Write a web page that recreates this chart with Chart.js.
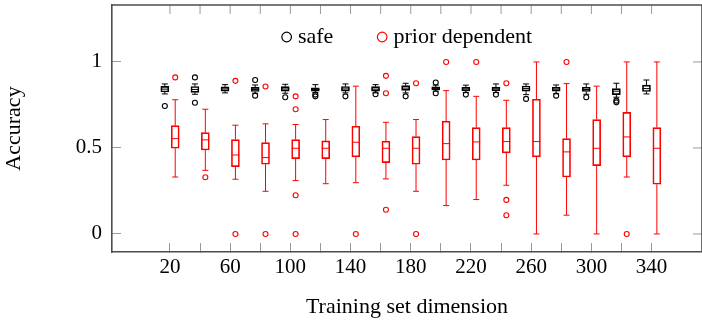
<!DOCTYPE html>
<html>
<head>
<meta charset="utf-8">
<script src="https://cdn.jsdelivr.net/npm/chart.js"></script>
<style>
  html, body { margin: 0; padding: 0; background: #fff; }
</style>
</head>
<body>
<canvas id="chart" width="702" height="322"></canvas>
<script>
// training set sizes (one box pair per size)
const sizes = [20, 40, 60, 80, 100, 120, 140, 160, 180, 200, 220, 240, 260, 280, 300, 320, 340];
const xLabeled = [20, 60, 100, 140, 180, 220, 260, 300, 340];
const yTicks = [0, 0.5, 1];

// safe
const safeLow  = [0.814, 0.812, 0.820, 0.818, 0.818, 0.822, 0.820, 0.820, 0.820, 0.830, 0.822, 0.822, 0.810, 0.815, 0.812, 0.795, 0.814];
const safeQ1   = [0.825, 0.823, 0.830, 0.828, 0.830, 0.830, 0.830, 0.830, 0.835, 0.838, 0.832, 0.832, 0.830, 0.830, 0.828, 0.810, 0.828];
const safeMed  = [0.842, 0.840, 0.843, 0.840, 0.843, 0.840, 0.843, 0.842, 0.848, 0.847, 0.843, 0.843, 0.845, 0.842, 0.840, 0.830, 0.845];
const safeQ3   = [0.858, 0.857, 0.855, 0.852, 0.856, 0.850, 0.857, 0.856, 0.862, 0.855, 0.853, 0.853, 0.860, 0.853, 0.853, 0.845, 0.865];
const safeHigh = [0.872, 0.872, 0.868, 0.866, 0.870, 0.868, 0.872, 0.868, 0.876, 0.865, 0.865, 0.872, 0.872, 0.866, 0.872, 0.876, 0.895];
const safeOut  = [[0.744], [0.91, 0.763], [], [0.895, 0.804], [0.795], [0.81, 0.80], [0.80], [0.812], [0.80],
                  [0.88, 0.818], [0.81], [0.81], [0.785], [0.804], [0.795], [0.775, 0.765], []];

// prior dependent
const priorLow  = [0.331, 0.370, 0.318, 0.248, 0.310, 0.292, 0.298, 0.320, 0.248, 0.165, 0.200, 0.283, 0.000, 0.109, 0.000, 0.331, 0.000];
const priorQ1   = [0.498, 0.488, 0.391, 0.405, 0.438, 0.438, 0.448, 0.415, 0.405, 0.430, 0.430, 0.471, 0.448, 0.331, 0.397, 0.448, 0.289];
const priorMed  = [0.554, 0.547, 0.459, 0.444, 0.498, 0.498, 0.533, 0.498, 0.498, 0.525, 0.535, 0.537, 0.537, 0.477, 0.498, 0.564, 0.498];
const priorQ3   = [0.630, 0.589, 0.548, 0.531, 0.548, 0.541, 0.626, 0.539, 0.566, 0.655, 0.618, 0.618, 0.783, 0.554, 0.665, 0.707, 0.618];
const priorHigh = [0.780, 0.725, 0.632, 0.640, 0.636, 0.665, 0.859, 0.649, 0.665, 0.833, 0.800, 0.777, 1.000, 0.874, 0.859, 1.000, 1.000];
const priorOut  = [[0.91], [0.33], [0, 0.89], [0, 0.857], [0.225, 0, 0.80, 0.725], [], [0], [0.141, 0.919, 0.818], [0, 0.876],
                   [1.0], [1.0], [0.198, 0.109, 0.876], [], [1.0], [], [0], []];

const red = '#ff0000';
const black = '#000000';
const axisColor = '#4d4d4d';
const tickColor = '#9a9a9a';
const tickLen = 9;
const safeShift = -3.4;
const priorShift = 3.5;

Chart.defaults.font.family = '"Liberation Serif", "Times New Roman", serif';
Chart.defaults.color = '#000';

function boxData(shift, q1, q3) {
  return sizes.map((s, i) => ({ x: s + shift, y: [q1[i], q3[i]] }));
}
function pointData(shift, vals) {
  return sizes.map((s, i) => ({ x: s + shift, y: vals[i] }));
}
function whiskerData(shift, low, q1, q3, high) {
  const pts = [];
  sizes.forEach((s, i) => {
    const x = s + shift;
    pts.push({ x, y: low[i] }, { x, y: q1[i] }, { x, y: null });
    pts.push({ x, y: q3[i] }, { x, y: high[i] }, { x, y: null });
  });
  return pts;
}
function outlierData(shift, outs) {
  const pts = [];
  sizes.forEach((s, i) => outs[i].forEach(v => pts.push({ x: s + shift, y: v })));
  return pts;
}

function series(color, shift, low, q1, med, q3, high, outs) {
  return [
    { type: 'bar', data: boxData(shift, q1, q3), stack: 'boxes',
      backgroundColor: 'rgba(0,0,0,0)', borderColor: color, borderWidth: 1,
      borderSkipped: false, barThickness: 8 },
    { type: 'scatter', data: whiskerData(shift, low, q1, q3, high), showLine: true,
      borderColor: color, borderWidth: 1, pointRadius: 0 },
    { type: 'scatter', data: pointData(shift, low).concat(pointData(shift, high)),
      pointStyle: 'line', pointRadius: 3, borderColor: color, borderWidth: 1 },
    { type: 'scatter', data: pointData(shift, med),
      pointStyle: 'line', pointRadius: 4, borderColor: color, borderWidth: 1 },
    { type: 'scatter', data: outlierData(shift, outs),
      pointStyle: 'circle', pointRadius: 2.5, borderColor: color,
      backgroundColor: 'rgba(0,0,0,0)', borderWidth: 1.1 }
  ];
}

// legend drawn inside the plot, like the pgfplots one
const insideLegend = {
  id: 'insideLegend',
  afterDraw(chart) {
    const { ctx, chartArea } = chart;
    const entries = [['safe', black], ['prior dependent', red]];
    const r = 4.8, gapText = 6.5, gapItem = 44;
    ctx.save();
    ctx.font = '22px "Liberation Serif"';
    const widths = entries.map(e => 2 * r + gapText + ctx.measureText(e[0]).width);
    const total = widths.reduce((a, b) => a + b, 0) + gapItem * (entries.length - 1);
    let x = (chartArea.left + chartArea.right) / 2 - total / 2;
    const cy = chartArea.top + 32;
    entries.forEach((e, i) => {
      ctx.beginPath();
      ctx.arc(x + r, cy, r, 0, Math.PI * 2);
      ctx.strokeStyle = e[1];
      ctx.lineWidth = 1.2;
      ctx.stroke();
      ctx.fillStyle = '#000';
      ctx.textBaseline = 'alphabetic';
      ctx.fillText(e[0], x + 2 * r + gapText, cy + 5.8);
      x += widths[i] + gapItem;
    });
    ctx.restore();
  }
};

// ticks on top and right sides, plus the top frame line
const mirrorTicks = {
  id: 'mirrorTicks',
  afterDraw(chart) {
    const { ctx, chartArea: a, scales: { x, y } } = chart;
    ctx.save();
    ctx.strokeStyle = tickColor;
    ctx.lineWidth = 1;
    ctx.beginPath();
    x.ticks.forEach(t => {
      const px = x.getPixelForValue(t.value);
      ctx.moveTo(px, a.top);
      ctx.lineTo(px, a.top + tickLen);
    });
    y.ticks.forEach(t => {
      const py = y.getPixelForValue(t.value);
      ctx.moveTo(a.right, py);
      ctx.lineTo(a.right - tickLen, py);
    });
    ctx.stroke();
    ctx.strokeStyle = axisColor;
    ctx.lineWidth = 1.6;
    ctx.beginPath();
    ctx.moveTo(a.left, a.top);
    ctx.lineTo(a.right, a.top);
    ctx.lineTo(a.right, a.bottom);
    ctx.stroke();
    ctx.restore();
  }
};

const datasets = []
  .concat(series(black, safeShift, safeLow, safeQ1, safeMed, safeQ3, safeHigh, safeOut))
  .concat(series(red, priorShift, priorLow, priorQ1, priorMed, priorQ3, priorHigh, priorOut));

new Chart(document.getElementById('chart').getContext('2d'), {
  type: 'scatter',
  data: { datasets },
  plugins: [insideLegend, mirrorTicks],
  options: {
    responsive: false,
    animation: false,
    events: [],
    layout: { autoPadding: false, padding: { top: 5, right: 0, bottom: 0, left: 0 } },
    plugins: { legend: { display: false }, tooltip: { enabled: false } },
    scales: {
      x: {
        type: 'linear',
        min: -18.5,
        max: 373.5,
        offset: false,
        afterBuildTicks: scale => { scale.ticks = sizes.map(v => ({ value: v })); },
        afterFit: scale => {
          scale.height = 70;
          scale.paddingLeft = 0;
          scale.paddingRight = 0;
        },
        grid: { display: true, offset: false, drawOnChartArea: false, drawTicks: true,
                tickLength: -tickLen, tickColor: tickColor, tickWidth: 1 },
        border: { display: true, color: axisColor, width: 1.6 },
        ticks: {
          padding: 11.4,
          font: { size: 21 },
          color: '#000',
          maxRotation: 0,
          autoSkip: false,
          callback: v => (xLabeled.includes(v) ? String(v) : '')
        },
        title: { display: true, text: 'Training set dimension', font: { size: 22 },
                 color: '#000', padding: { top: 0, bottom: 1.2 } }
      },
      y: {
        type: 'linear',
        min: -0.105,
        max: 1.331,
        stacked: false,
        afterBuildTicks: scale => { scale.ticks = yTicks.map(v => ({ value: v })); },
        afterFit: scale => {
          scale.width = 112;
          scale.paddingTop = 0;
          scale.paddingBottom = 0;
        },
        grid: { display: true, drawOnChartArea: false, drawTicks: true,
                tickLength: -tickLen, tickColor: tickColor, tickWidth: 1 },
        border: { display: true, color: axisColor, width: 1.6 },
        ticks: {
          padding: 19,
          font: { size: 21 },
          color: '#000',
          callback: v => String(v)
        },
        title: { display: true, text: 'Accuracy', font: { size: 22 },
                 color: '#000', padding: { top: 1, bottom: 0 } }
      }
    }
  }
});
</script>
</body>
</html>
